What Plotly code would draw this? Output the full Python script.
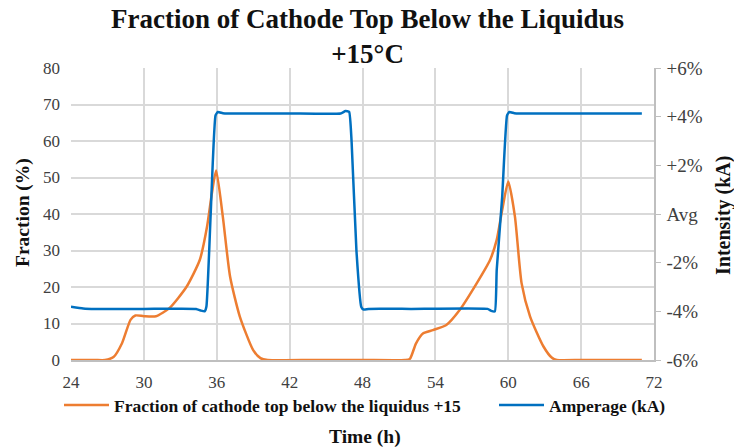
import plotly.graph_objects as go

# Orange series: fraction of cathode top below liquidus +15 (%), left axis
frac_t = [24, 25, 26, 26.8, 27.5, 28.2, 28.9, 29.3, 30.0, 31.0, 32.1, 33.5, 34.6, 35.2, 35.6, 35.95,
          36.5, 37.1, 37.9, 39.0, 39.6, 40.2, 44, 48, 51.5, 51.9, 52.4, 53.0, 53.8, 54.9, 56.0,
          57.4, 58.5, 59.05, 59.5, 60.0, 60.55, 61.1, 61.8, 62.9, 63.6, 64.0, 66, 68, 71]
frac_v = [0, 0, 0, 0, 0.8, 4.6, 11.0, 12.2, 12.0, 12.0, 14.2, 20.0, 27.4, 36.5, 45.7, 51.9,
          39.3, 22.8, 11.9, 2.7, 0.5, 0, 0, 0, 0, 0.3, 4.5, 7.3, 8.2, 9.6, 13.7,
          21.0, 27.4, 32.9, 41.1, 48.9, 39.3, 21.0, 11.9, 3.7, 0.6, 0, 0, 0, 0]

# Blue series: amperage deviation from average (%), right axis
amp_t = [24, 25, 26, 30, 34.3, 34.7, 35.0, 35.15, 35.5, 35.9, 36.1, 36.5, 37, 42, 46.2, 46.6, 46.9,
         47.1, 47.5, 47.9, 48.1, 48.5, 52, 58.3, 58.6, 58.9, 59.05, 59.5, 59.9, 60.1, 60.5, 61, 66, 71]
amp_v = [-3.81, -3.88, -3.9, -3.9, -3.9, -3.97, -4.0, -3.8, 0.0, 4.05, 4.19, 4.14, 4.13, 4.13, 4.13, 4.23, 4.2,
         3.0, -1.5, -3.82, -3.93, -3.9, -3.9, -3.9, -3.98, -4.0, -2.3, 0.7, 4.05, 4.19, 4.14, 4.13, 4.13, 4.13]

x_ticks = [24, 30, 36, 42, 48, 54, 60, 66, 72]
left_ticks = [0, 10, 20, 30, 40, 50, 60, 70, 80]
right_tickvals = [-6, -4, -2, 0, 2, 4, 6]
right_ticktext = ["-6%", "-4%", "-2%", "Avg", "+2%", "+4%", "+6%"]

FONT = "Liberation Serif"
ORANGE = "#ED7D31"
BLUE = "#0070C0"
GRID = "#D9D9D9"
W, H = 734, 447
ML, MR, MT, MB = 71, 80, 68, 87
PW, PH = W - ML - MR, H - MT - MB


def px_x(px):
    return (px - ML) / PW


def px_y(py):
    return (H - MB - py) / PH


fig = go.Figure()
fig.add_trace(go.Scatter(x=frac_t, y=frac_v, mode="lines",
                         line=dict(color=ORANGE, width=2.5, shape="spline", smoothing=0.6),
                         name="<b>Fraction of cathode top below the liquidus +15</b>",
                         yaxis="y", legend="legend"))
fig.add_trace(go.Scatter(x=amp_t, y=amp_v, mode="lines",
                         line=dict(color=BLUE, width=2.5, shape="spline", smoothing=0.4),
                         name="<b>Amperage (kA)</b>", yaxis="y2", legend="legend2"))

tick_font = dict(size=17, family=FONT, color="#404040")
leg_font = dict(size=17.5, family=FONT, color="#111111")

fig.update_layout(
    width=W, height=H,
    margin=dict(l=ML, r=MR, t=MT, b=MB, autoexpand=False),
    paper_bgcolor="white", plot_bgcolor="white",
    font=dict(family=FONT, color="#222222", size=16),
    xaxis=dict(range=[24, 72], tickvals=x_ticks, showgrid=True, gridcolor=GRID, gridwidth=1.5,
               zeroline=False, showline=True, linecolor="#BFBFBF", linewidth=1.5, ticks="",
               tickfont=tick_font, ticklabelstandoff=6),
    yaxis=dict(range=[0, 80], tickvals=left_ticks, showgrid=True, gridcolor=GRID, gridwidth=1.5,
               zeroline=False, showline=False, ticks="", tickfont=tick_font, ticklabelstandoff=10),
    yaxis2=dict(range=[-6, 6], tickvals=right_tickvals, ticktext=right_ticktext, overlaying="y",
                side="right", showgrid=False, zeroline=False, showline=True, linecolor="#BFBFBF",
                linewidth=1.5, ticks="outside", ticklen=5, tickcolor="#BFBFBF",
                tickfont=dict(size=19, family=FONT, color="#404040"), ticklabelstandoff=2),
    legend=dict(orientation="h", xref="container", x=59 / W, xanchor="left",
                yref="container", y=(H - 405) / H, yanchor="middle", itemwidth=45,
                font=leg_font, bgcolor="rgba(0,0,0,0)"),
    legend2=dict(orientation="h", xref="container", x=494 / W, xanchor="left",
                 yref="container", y=(H - 405) / H, yanchor="middle", itemwidth=45,
                 font=leg_font, bgcolor="rgba(0,0,0,0)"),
    showlegend=True,
)

fig.add_annotation(text="<b>Fraction of Cathode Top Below the Liquidus<br>+15°C</b>",
                   x=px_x(367), y=px_y(36), xref="paper", yref="paper", xanchor="center",
                   yanchor="middle", showarrow=False, align="center",
                   font=dict(size=27, family=FONT, color="#111111"))
fig.add_annotation(text="<b>Time (h)</b>", x=px_x(365), y=px_y(437), xref="paper", yref="paper",
                   yanchor="middle", showarrow=False, font=dict(size=19.5, family=FONT, color="#111111"))
fig.add_annotation(text="<b>Fraction (%)</b>", x=px_x(23), y=px_y(213), xref="paper", yref="paper",
                   xanchor="center", yanchor="middle", textangle=-90, showarrow=False,
                   font=dict(size=19.5, family=FONT, color="#111111"))
fig.add_annotation(text="<b>Intensity (kA)</b>", x=px_x(723), y=px_y(216), xref="paper", yref="paper",
                   xanchor="center", yanchor="middle", textangle=-90, showarrow=False,
                   font=dict(size=20, family=FONT, color="#111111"))

fig.write_html("out.html")
